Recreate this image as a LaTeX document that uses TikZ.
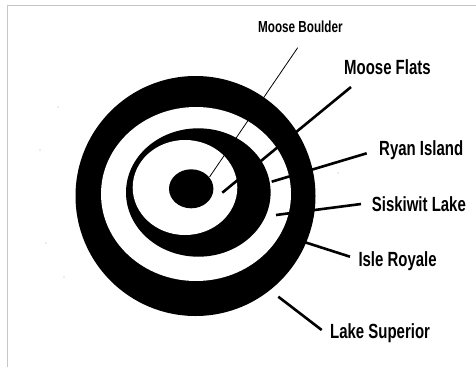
\documentclass[tikz,border=0pt]{standalone}
\usepackage{fontspec}
\setmainfont{Liberation Sans}
\newfontfamily\labelfont[FakeStretch=0.73]{Liberation Sans}
\begin{document}
\begin{tikzpicture}[x=1pt,y=-1pt,
  lbl/.style={anchor=base west,inner sep=0pt,font=\labelfont\bfseries\fontsize{20.5}{24}\selectfont},
  lead/.style={line width=2.6pt}]
\useasboundingbox (0,0) rectangle (476,367);
% frame
\draw[gray!45,line width=0.8pt] (476,5) -- (7,5) -- (7,367);
% specks
\foreach \p in {(58,107),(40,150),(46,243),(64,277),(338,173)}
  \fill[gray!60] \p circle (0.6pt);
% rings
\fill (195.5,196) circle (120pt);
\fill[white] (196,194) ellipse [x radius=95pt,y radius=87pt];
\fill (198.3,192.5) ellipse [x radius=72.3pt,y radius=64.2pt];
\fill[white] (185,187.5) ellipse [x radius=52.3pt,y radius=47.5pt];
\fill (191.2,188.8) ellipse [x radius=22.2pt,y radius=19.5pt];
% line ends
\coordinate (bouldA) at (297.7,47.7);  \coordinate (bouldB) at (209.5,177);
\coordinate (flatsA) at (351,87);      \coordinate (flatsB) at (222.3,192.7);
\coordinate (ryanA) at (366.7,153.3);  \coordinate (ryanB) at (271.7,181.7);
\coordinate (siskA) at (361,204);      \coordinate (siskB) at (276,215);
\coordinate (isleA) at (350,256.7);    \coordinate (isleB) at (298,240);
\coordinate (supA) at (321.7,330);     \coordinate (supB) at (278.3,296.7);
% leaders
\draw[line width=0.8pt] (bouldA) -- (bouldB);
\draw[lead] (flatsA) -- (flatsB);
\draw[lead] (ryanA) -- (ryanB);
\draw[lead] (siskA) -- (siskB);
\draw[lead] (isleA) -- (isleB);
\draw[lead] (supA) -- (supB);
% labels
\node[lbl,font=\labelfont\bfseries\fontsize{16}{19}\selectfont] (boulder) at (258,32) {Moose Boulder};
\node[lbl] (flats) at (344,74) {Moose Flats};
\node[lbl] (ryan) at (379,155.5) {Ryan Island};
\node[lbl] (siskiwit) at (371.7,211.7) {Siskiwit Lake};
\node[lbl] (isle) at (358.3,266.7) {Isle Royale};
\node[lbl] (superior) at (330,338.3) {Lake Superior};
\end{tikzpicture}
\end{document}
